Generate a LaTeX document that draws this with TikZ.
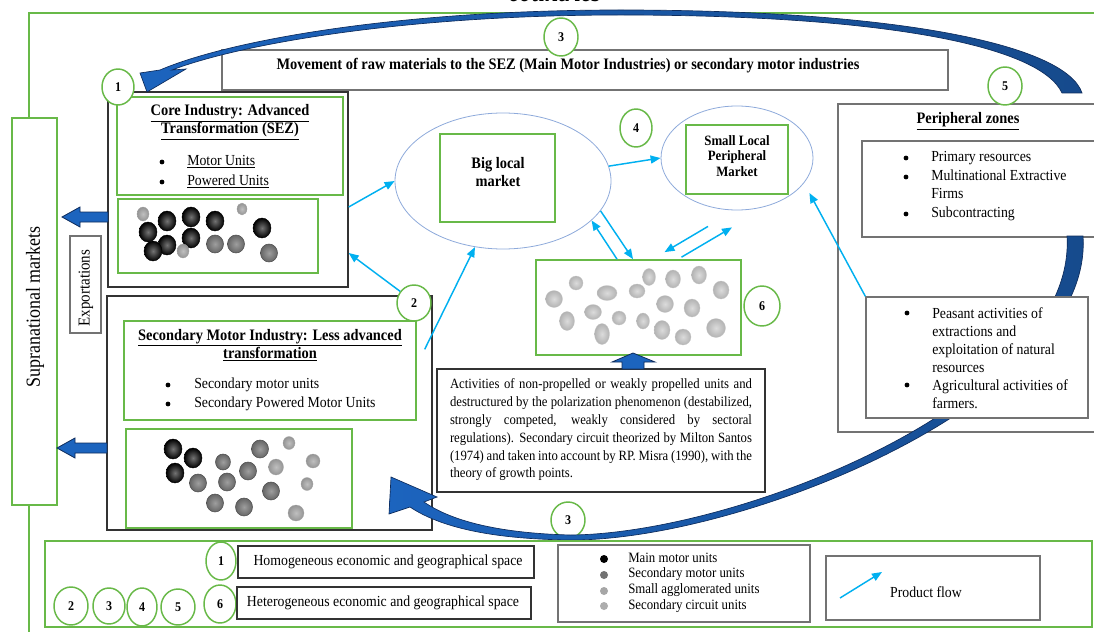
\documentclass[tikz,border=0pt]{standalone}
\usepackage{fontspec}
\setmainfont{Liberation Serif}[FakeStretch=0.9]
\usetikzlibrary{arrows.meta,shapes.geometric,fit,calc}
\definecolor{grn}{RGB}{104,185,72}
\definecolor{flowc}{RGB}{0,176,240}
\definecolor{ellc}{RGB}{142,170,219}
\definecolor{navy}{RGB}{14,44,92}
\definecolor{brightblue}{RGB}{28,100,190}
\definecolor{midblue}{RGB}{22,74,140}
\newcommand\myfs[2]{\fontsize{#1}{#2}\selectfont}
\newcommand\myul[1]{\underline{#1}}
\newcommand\blob[5]{\shadedraw[#1] (#2,#3) ellipse [x radius=#4, y radius=#5];}
\tikzset{
  gbox/.style={draw=grn, line width=1.3pt, inner sep=0pt},
  kbox/.style={draw=black!80, line width=1pt, inner sep=0pt, fill=white},
  ybox/.style={draw=black!55, line width=1pt, inner sep=0pt, fill=white},
  numc/.style={ellipse, draw=grn, line width=1.1pt, fill=white, inner sep=0pt, font=\bfseries\myfs{10}{11}},
  flowarr/.style={draw=flowc, line width=1.1pt, -{Triangle[length=7.5pt,width=6pt]}},
  mkell/.style={ellipse, draw=ellc, line width=0.6pt, inner sep=0pt},
  txt/.style={inner sep=0pt, font=\myfs{11.5}{14}},
  bul/.style={circle, inner sep=0pt, minimum size=3.6pt, fill=black},
  bold12/.style={inner sep=0pt, align=center, font=\bfseries\myfs{12}{13.5}},
  ballA/.style={inner color=black!55, outer color=black, draw=black, line width=0.3pt},
  ballB/.style={inner color=black!38, outer color=black!60, draw=black!70, line width=0.4pt},
  ballC/.style={inner color=black!25, outer color=black!42, draw=black!35, line width=0.2pt},
  blobD/.style={inner color=black!14, outer color=black!30, draw=black!22, line width=0.2pt},
  blockarr/.style={fill=brightblue, draw=navy, line width=0.6pt},
}
\begin{document}
\begin{tikzpicture}[x=0.75pt, y=-0.75pt]
\useasboundingbox (0,0) rectangle (1094,631);
\fill[white] (0,0) rectangle (1094,631);
\clip (0,0) rectangle (1094,631);

% cut-off title
\node[inner sep=0pt, anchor=base, font=\bfseries\itshape\myfs{20}{22}] (ctry) at (555,2) {countries};

% outer frame
\draw[grn, line width=1.3pt] (29,640) -- (29,13) -- (1100,13);

% supranational markets
\node[gbox, fill=white, fit={(12,118) (57,505)}] (supra) {};
\node[inner sep=0pt, rotate=90, font=\myfs{15}{16}] (supraT) at (35,307) {Supranational markets};
\node[ybox, fit={(70,236) (101,333)}] (expo) {};
\node[inner sep=0pt, rotate=90, font=\myfs{12.5}{14}] (expoT) at (86,288) {Exportations};

% movement box
\node[ybox, fit={(222,50) (948,90)}] (move) {};
\node[bold12] (moveT) at (568,66) {Movement of raw materials to the SEZ (Main Motor Industries) or secondary motor industries};

% core industry
\node[kbox, fit={(108,92) (348,287)}] (core) {};
\node[gbox, fit={(117,97) (343,195)}] (coreTb) {};
\node[bold12] (coreT) at (230,122) {\myul{Core Industry: Advanced}\\\myul{Transformation (SEZ)}};
\node[bul] (cb1) at (162,162) {};
\node[bul] (cb2) at (162,182) {};
\node[txt, anchor=west, align=left, font=\myfs{11.5}{15}] (cbt) at (187,172) {\myul{Motor Units}\\\myul{Powered Units}};
\node[gbox, fit={(118,199) (318,273)}] (coreC) {};
\blob{ballC}{143}{214}{6}{7}
\blob{ballA}{167}{221}{9}{10}
\blob{ballA}{191}{217}{9}{10}
\blob{ballA}{215}{221}{9}{10}
\blob{ballC}{242}{209}{5}{6}
\blob{ballA}{262}{228}{9}{10}
\blob{ballA}{148}{232}{9}{10}
\blob{ballA}{167}{245}{9}{10}
\blob{ballA}{191}{238}{9}{10}
\blob{ballA}{153}{251}{9}{10}
\blob{ballC}{183}{251}{6}{7}
\blob{ballB}{215}{244}{8.5}{9}
\blob{ballB}{236}{244}{8.5}{9}
\blob{ballB}{269}{253}{8.5}{9}

% secondary industry
\node[kbox, fit={(107,296) (432,530)}] (sec) {};
\node[gbox, fit={(124,321) (416,420)}] (secTb) {};
\node[bold12] (secT) at (270,345) {\myul{Secondary Motor Industry: Less advanced}\\\myul{transformation}};
\node[bul] (sb1) at (168,385) {};
\node[bul] (sb2) at (168,404) {};
\node[txt, anchor=west, align=left, font=\myfs{11.5}{14.25}] (sbt) at (194,394.5) {Secondary motor units\\Secondary Powered Motor Units};
\node[gbox, fit={(126,429) (352,528)}] (secC) {};
\blob{ballA}{173}{449}{9}{10}
\blob{ballA}{193}{458}{9}{10}
\blob{ballA}{175}{473}{9}{10}
\blob{ballB}{223}{462}{7.5}{8}
\blob{ballB}{260}{449}{8.5}{9}
\blob{ballC}{289}{443}{6}{6.5}
\blob{ballB}{248}{471}{8.5}{9}
\blob{ballC}{276}{467}{7.5}{8}
\blob{ballC}{313}{461}{7}{7}
\blob{ballB}{198}{483}{8.5}{9}
\blob{ballB}{227}{482}{8.5}{9}
\blob{ballB}{271}{491}{8.5}{9}
\blob{ballC}{307}{484}{6}{6.5}
\blob{ballB}{215}{503}{8.5}{9}
\blob{ballB}{244}{507}{8.5}{9}
\blob{ballC}{296}{513}{8}{8}

% markets
\node[mkell, minimum width=162pt, minimum height=102pt] (bigell) at (503,181) {};
\node[gbox, fit={(440,134) (555,222)}] (bigbox) {};
\node[bold12] (bigT) at (498,172) {Big local\\market};
\node[mkell, minimum width=114pt, minimum height=78pt] (smallell) at (737,158) {};
\node[gbox, fit={(686,125) (788,194)}] (smallbox) {};
\node[inner sep=0pt, align=center, font=\bfseries\myfs{10.7}{11.7}] (smallT) at (737,156) {Small Local\\Peripheral\\Market};

% secondary circuit cluster
\node[gbox, fit={(536,260) (741,355)}] (c6box) {};
\blob{blobD}{554}{299}{8.5}{8.5}
\blob{blobD}{576}{283}{7}{7}
\blob{blobD}{607}{293}{10}{7.5}
\blob{blobD}{567}{321}{7.5}{9.5}
\blob{blobD}{593}{312}{8.5}{7.5}
\blob{blobD}{619}{318}{7}{7}
\blob{blobD}{602}{334}{7.5}{10.5}
\blob{blobD}{637}{291}{8}{7}
\blob{blobD}{649}{277}{6.5}{8.5}
\blob{blobD}{673}{279}{7.5}{9}
\blob{blobD}{699}{275}{7.5}{9}
\blob{blobD}{721}{290}{8}{9}
\blob{blobD}{665}{304}{8.5}{8.5}
\blob{blobD}{643}{321}{6.5}{8}
\blob{blobD}{692}{308}{8}{9}
\blob{blobD}{662}{330}{8}{9.5}
\blob{blobD}{683}{337}{8}{8}
\blob{blobD}{716}{328}{9.5}{9.5}

% text box
\node[kbox, fit={(437,369) (765,492)}] (para) {};
\node[inner sep=0pt, align=left, font=\myfs{10.6}{13.35}] (paraT) at (601,430) {%
\makebox[226.5pt][s]{Activities of non-propelled or weakly propelled units and}\\
\makebox[226.5pt][s]{destructured by the polarization phenomenon (destabilized,}\\
\makebox[226.5pt][s]{strongly competed, weakly considered by sectoral}\\
\makebox[226.5pt][s]{regulations). Secondary circuit theorized by Milton Santos}\\
\makebox[226.5pt][s]{(1974) and taken into account by RP. Misra (1990), with the}\\
\makebox[226.5pt][l]{theory of growth points.}};
\filldraw[blockarr] (622,369) -- (622,362) -- (612,362) -- (633,353) -- (655,362) -- (644,362) -- (644,369) -- cycle;

% peripheral zones
\node[ybox, fit={(838,104) (1100,432)}] (peri) {};
\node[bold12] (periT) at (968,121) {\myul{Peripheral zones}};
\node[ybox, fit={(862,141) (1100,237)}] (prim) {};
\node[bul] (pb1) at (906,158) {};
\node[bul] (pb2) at (906,177) {};
\node[bul] (pb3) at (906,214) {};
\node[txt, anchor=west, align=left, font=\myfs{11.5}{14}] (pbt) at (931,186) {Primary resources\\Multinational Extractive\\Firms\\Subcontracting};

% number circle 3 (bottom) under the arc
\node[numc, minimum width=25.5pt, minimum height=27pt] (c3b) at (568,520) {3};

% lower curved arrow
\shadedraw[left color=brightblue, middle color=navy, right color=midblue, draw=navy, line width=0.5pt]
 (1083,236) .. controls (1094,400) and (742,541) .. (570,540)
 .. controls (490,539) and (440,527) .. (410,507)
 -- (389,514) -- (391,477) -- (437,497) -- (424,502)
 .. controls (450,520) and (495,533) .. (570,535)
 .. controls (738,534) and (1077,400) .. (1067,236) -- cycle;

% peasant box
\node[ybox, fit={(866,297) (1088,418)}] (peas) {};
\node[bul] (qb1) at (907,313) {};
\node[bul] (qb2) at (907,385) {};
\node[txt, anchor=west, align=left, font=\myfs{11.5}{13.5}] (qbt) at (932,358) {Peasant activities of\\extractions and\\exploitation of natural\\resources\\Agricultural activities of\\farmers.};

% upper curved arrow
\shadedraw[left color=brightblue, middle color=navy, right color=midblue, draw=navy, line width=0.5pt]
 (1082,93) .. controls (1066,45) and (900,10) .. (620,10)
 .. controls (400,10) and (230,40) .. (160,70)
 -- (140,73) -- (147,92) -- (186,69) -- (172,70)
 .. controls (240,44) and (405,15) .. (620,15)
 .. controls (880,15) and (1040,45) .. (1062,93) -- cycle;

% exportation block arrows
\filldraw[blockarr] (108,212) -- (80,212) -- (80,207) -- (62,217) -- (80,227) -- (80,222) -- (108,222) -- cycle;
\filldraw[blockarr] (107,443) -- (75,443) -- (75,438) -- (57,448) -- (75,458) -- (75,453) -- (107,453) -- cycle;

% number circles
\node[numc, minimum width=24pt, minimum height=27pt] (c1) at (118,87) {1};
\node[numc, minimum width=25.5pt, minimum height=28.5pt] (c3t) at (561,37) {3};
\node[numc, minimum width=25.5pt, minimum height=28.5pt] (c5) at (1005,86) {5};
\node[numc, minimum width=24pt, minimum height=28.5pt] (c4) at (636,128) {4};
\node[numc, minimum width=25.5pt, minimum height=27pt] (c2) at (414,303) {2};
\node[numc, minimum width=27pt, minimum height=30pt] (c6) at (762,306) {6};

% product flows
\draw[flowarr] (core.east |- 0,207) -- (bigell.west);
\draw[flowarr] (c2.140) -- (core.east |- 0,253);
\draw[flowarr] ($(sec.north east)+(-8,54)$) -- (bigell.247);
\draw[flowarr] (bigell.8) -- (smallell.west);
\draw[flowarr] (c6box.north -| 617,0) -- (bigell.-24);
\draw[flowarr] (bigell.-17) -- (c6box.north -| 633,0);
\draw[flowarr] ($(smallell.south)+(-29,16)$) -- ($(c6box.north)+(26,-7)$);
\draw[flowarr] ($(c6box.north)+(43,-2)$) -- ($(smallell.south)+(-5,17)$);
\draw[flowarr] (peas.north west) -- ($(smallell.east)+(-4,35)$);

% legend
\node[gbox, fit={(45,541) (1092,627)}] (legend) {};
\node[numc, minimum width=22.5pt, minimum height=28.5pt] (l1) at (221,561) {1};
\node[kbox, fit={(238,546) (534,578)}] (homo) {};
\node[txt] (homoT) at (388,562) {Homogeneous economic and geographical space};
\node[numc, minimum width=25.5pt, minimum height=28.5pt] (l2) at (71,606) {2};
\node[numc, minimum width=24pt, minimum height=27pt] (l3) at (109,606) {3};
\node[numc, minimum width=22.5pt, minimum height=28.5pt] (l4) at (142,607) {4};
\node[numc, minimum width=25.5pt, minimum height=27pt] (l5) at (178,607) {5};
\node[numc, minimum width=24pt, minimum height=28.5pt] (l6) at (220,604) {6};
\node[kbox, fit={(237,587) (531,619)}] (hete) {};
\node[txt] (heteT) at (383,603) {Heterogeneous economic and geographical space};
\node[ybox, fit={(558,545) (810,622)}] (units) {};
\node[circle, inner sep=0pt, minimum size=6pt, fill=black] (d1) at (604,559) {};
\node[circle, inner sep=0pt, minimum size=6pt, fill=black!55] (d2) at (604,575) {};
\node[circle, inner sep=0pt, minimum size=6pt, fill=black!35] (d3) at (604,591) {};
\node[circle, inner sep=0pt, minimum size=6pt, fill=black!32] (d4) at (604,606) {};
\node[inner sep=0pt, anchor=west, align=left, font=\myfs{10.7}{11.8}] (unitsT) at (628,582.5) {Main motor units\\Secondary motor units\\Small agglomerated units\\Secondary circuit units};
\node[ybox, fit={(826,556) (1040,620)}] (pflow) {};
\coordinate (pf1) at (840,598);
\coordinate (pf2) at (882,572);
\draw[flowarr] (pf1) -- (pf2);
\node[txt] (pflowT) at (926,592) {Product flow};
\end{tikzpicture}
\end{document}
